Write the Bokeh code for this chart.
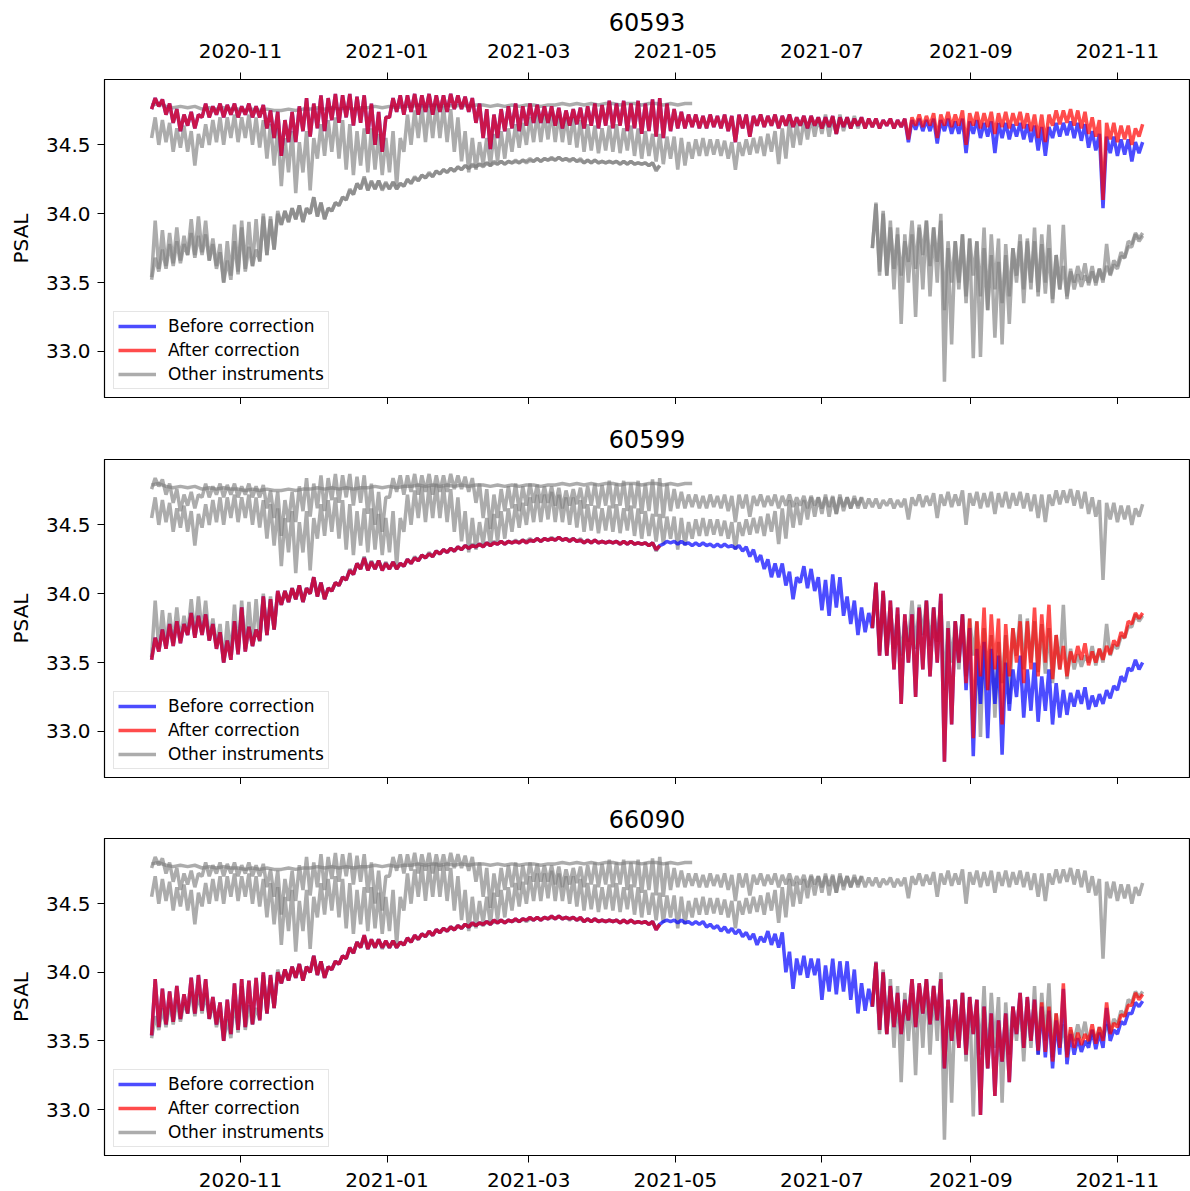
import numpy as np
from datetime import datetime, timedelta
from bokeh.plotting import figure
from bokeh.models import (Range1d, FixedTicker, DatetimeTickFormatter, PrintfTickFormatter,
                          DatetimeAxis, Legend, LegendItem)
from bokeh.layouts import column
from bokeh.embed import file_html
from bokeh.resources import INLINE

NAN = float("nan")
GAP = (NAN, NAN)

# ---------------- data (PSAL) -------------
# Each noisy record is given as (low, high) pairs, one pair per 3 days from 2020-09-25;
# the low sits at the start of the 3-day step and the high half-way through it.
start_date = datetime(2020, 9, 25)
pair_step_days = 1.5
flat_step_days = 3

titles = ["60593", "60599", "66090"]
tick_months = ["2020-11", "2021-01", "2021-03", "2021-05", "2021-07", "2021-09", "2021-11"]
y_ticks = [33.0, 33.5, 34.0, 34.5]
legend_labels = ["Before correction", "After correction", "Other instruments"]

# ---- 60593 ----
a_shared = [
    (34.76, 34.84), (34.78, 34.83), (34.72, 34.80), (34.66, 34.76), (34.60, 34.72), (34.64, 34.74), (34.62, 34.72), (34.70, 34.80), (34.70, 34.78), (34.72, 34.80),
    (34.70, 34.79), (34.72, 34.80), (34.70, 34.78), (34.72, 34.80), (34.70, 34.78), (34.70, 34.79), (34.62, 34.75), (34.55, 34.74), (34.42, 34.68), (34.52, 34.74),
    (34.52, 34.78), (34.60, 34.84), (34.56, 34.80), (34.62, 34.86), (34.60, 34.84), (34.68, 34.87), (34.66, 34.86), (34.70, 34.87), (34.64, 34.85), (34.66, 34.86),
    (34.58, 34.80), (34.50, 34.74), (34.45, 34.70), (34.70, 34.84), (34.74, 34.86), (34.72, 34.86), (34.74, 34.87), (34.72, 34.86), (34.74, 34.87), (34.72, 34.86),
    (34.74, 34.86), (34.74, 34.87), (34.76, 34.86), (34.76, 34.85), (34.74, 34.84), (34.66, 34.80), (34.55, 34.76), (34.47, 34.72), (34.55, 34.76), (34.60, 34.78),
    (34.62, 34.80), (34.60, 34.78), (34.64, 34.80), (34.66, 34.79), (34.66, 34.78), (34.66, 34.78), (34.64, 34.77), (34.62, 34.75), (34.64, 34.76), (34.65, 34.77),
    (34.62, 34.78), (34.64, 34.80), (34.62, 34.79), (34.64, 34.82), (34.62, 34.80), (34.64, 34.82), (34.60, 34.80), (34.62, 34.82), (34.58, 34.80), (34.60, 34.83),
    (34.56, 34.84), (34.55, 34.80), (34.60, 34.76), (34.62, 34.74), (34.62, 34.72), (34.63, 34.72), (34.62, 34.71), (34.62, 34.72), (34.63, 34.71), (34.62, 34.72),
    (34.60, 34.71), (34.52, 34.72), (34.62, 34.72), (34.56, 34.71), (34.64, 34.72), (34.63, 34.71), (34.64, 34.72), (34.62, 34.71), (34.64, 34.72), (34.63, 34.70),
    (34.64, 34.71), (34.62, 34.71), (34.64, 34.70), (34.62, 34.70), (34.63, 34.71), (34.58, 34.70), (34.63, 34.70), (34.62, 34.69), (34.64, 34.70), (34.62, 34.69),
    (34.63, 34.69), (34.62, 34.68), (34.64, 34.69), (34.62, 34.68), (34.63, 34.69)]
a_raw_late = [
    (34.52, 34.68), (34.61, 34.69), (34.60, 34.68), (34.60, 34.69), (34.51, 34.68), (34.60, 34.69), (34.58, 34.67), (34.58, 34.69), (34.44, 34.67), (34.58, 34.68),
    (34.55, 34.66), (34.56, 34.67), (34.44, 34.66), (34.55, 34.66), (34.54, 34.65), (34.56, 34.66), (34.54, 34.65), (34.52, 34.64), (34.46, 34.63), (34.42, 34.63),
    (34.55, 34.66), (34.56, 34.66), (34.57, 34.67), (34.55, 34.66), (34.53, 34.65), (34.48, 34.60), (34.46, 34.58), (34.04, 34.56), (34.44, 34.56), (34.42, 34.54),
    (34.43, 34.54), (34.38, 34.52), (34.44, 34.52)]
a_cor_late = [
    (34.54, 34.70), (34.64, 34.72), (34.63, 34.71), (34.64, 34.73), (34.55, 34.72), (34.64, 34.74), (34.63, 34.72), (34.64, 34.75), (34.50, 34.73), (34.64, 34.74),
    (34.62, 34.73), (34.63, 34.74), (34.58, 34.73), (34.63, 34.74), (34.62, 34.73), (34.64, 34.74), (34.62, 34.73), (34.60, 34.72), (34.55, 34.72), (34.52, 34.72),
    (34.64, 34.75), (34.65, 34.75), (34.66, 34.76), (34.64, 34.75), (34.62, 34.74), (34.58, 34.70), (34.56, 34.68), (34.10, 34.66), (34.54, 34.66), (34.52, 34.64),
    (34.54, 34.64), (34.50, 34.62), (34.56, 34.65)]

# ---- 60599 ----
b_early = [
    (33.52, 33.68), (33.58, 33.74), (33.60, 33.78), (33.62, 33.80), (33.64, 33.78), (33.70, 33.86), (33.68, 33.84), (33.70, 33.85), (33.66, 33.78), (33.60, 33.72),
    (33.50, 33.66), (33.52, 33.80), (33.56, 33.90), (33.58, 33.76), (33.62, 33.74), (33.66, 33.98), (33.70, 33.96), (33.74, 34.02), (33.92, 34.02), (33.94, 34.04),
    (33.96, 34.06), (33.94, 34.04), (34.00, 34.12), (33.98, 34.08), (33.96, 34.04), (34.02, 34.08), (34.06, 34.12), (34.10, 34.17), (34.14, 34.22), (34.18, 34.26),
    (34.17, 34.23), (34.18, 34.24), (34.17, 34.22), (34.18, 34.23), (34.18, 34.22), (34.20, 34.25), (34.22, 34.26), (34.24, 34.28), (34.26, 34.29), (34.27, 34.31),
    (34.29, 34.32), (34.30, 34.33), (34.31, 34.34), (34.32, 34.35), (34.33, 34.35), (34.34, 34.36), (34.34, 34.37), (34.35, 34.37), (34.36, 34.38), (34.36, 34.38),
    (34.37, 34.38), (34.37, 34.39), (34.37, 34.39), (34.38, 34.40), (34.38, 34.40), (34.39, 34.40), (34.39, 34.41), (34.39, 34.40), (34.38, 34.40), (34.38, 34.39),
    (34.37, 34.39), (34.37, 34.39), (34.37, 34.38), (34.37, 34.38), (34.37, 34.38), (34.36, 34.38), (34.36, 34.38), (34.36, 34.37), (34.36, 34.37), (34.35, 34.37),
    (34.32, 34.35)]
b_raw_mid = [
    (34.36, 34.38), (34.37, 34.38), (34.36, 34.38), (34.36, 34.37), (34.35, 34.37), (34.35, 34.37), (34.35, 34.36), (34.34, 34.36), (34.34, 34.36), (34.34, 34.35),
    (34.33, 34.35), (34.31, 34.34), (34.27, 34.32), (34.23, 34.28), (34.18, 34.25), (34.12, 34.22), (34.12, 34.22), (34.06, 34.16), (33.96, 34.12), (34.08, 34.20),
    (34.04, 34.18), (34.02, 34.12), (33.88, 34.10), (33.84, 34.14), (33.90, 34.12), (33.84, 33.98), (33.78, 33.95), (33.70, 33.90), (33.72, 33.86)]
b_late_shared = [
    (33.75, 34.08), (33.55, 34.02), (33.55, 33.95), (33.45, 33.90), (33.20, 33.85), (33.50, 33.85), (33.25, 33.90), (33.45, 33.95), (33.40, 33.90), (33.50, 34.00),
    (32.78, 33.75), (33.05, 33.80), (33.50, 33.85)]
b_raw_late = [
    (33.30, 33.75), (32.82, 33.60), (33.20, 33.65), (32.95, 33.60), (33.20, 33.55), (32.83, 33.50), (33.15, 33.45), (33.25, 33.55), (33.10, 33.45), (33.15, 33.50),
    (33.07, 33.40), (33.15, 33.45), (33.05, 33.35), (33.10, 33.30), (33.12, 33.28), (33.18, 33.30), (33.20, 33.32), (33.16, 33.26), (33.18, 33.27), (33.20, 33.30),
    (33.24, 33.33), (33.30, 33.40), (33.36, 33.46), (33.44, 33.52), (33.45, 33.50)]
b_cor_late = [
    (33.35, 33.82), (32.95, 33.80), (33.40, 33.90), (33.30, 33.85), (33.45, 33.82), (33.05, 33.78), (33.40, 33.75), (33.50, 33.80), (33.35, 33.80), (33.45, 33.90),
    (33.40, 33.85), (33.50, 33.92), (33.38, 33.70), (33.45, 33.62), (33.40, 33.58), (33.50, 33.62), (33.52, 33.64), (33.48, 33.58), (33.50, 33.60), (33.52, 33.62),
    (33.56, 33.66), (33.62, 33.72), (33.68, 33.80), (33.78, 33.86), (33.82, 33.86)]

# ---- 66090 ----
c_early = [
    (33.54, 33.95), (33.60, 33.88), (33.62, 33.86), (33.64, 33.90), (33.66, 33.84), (33.70, 33.96), (33.70, 33.98), (33.72, 33.95), (33.66, 33.82), (33.62, 33.78),
    (33.50, 33.80), (33.55, 33.92), (33.58, 33.95), (33.60, 33.94), (33.62, 33.96), (33.65, 34.00), (33.70, 33.98), (33.74, 34.00), (33.92, 34.02), (33.94, 34.04),
    (33.96, 34.06), (33.94, 34.04), (34.00, 34.12), (33.98, 34.08), (33.96, 34.04), (34.02, 34.08), (34.06, 34.12), (34.10, 34.18), (34.14, 34.22), (34.18, 34.27),
    (34.17, 34.24), (34.18, 34.24), (34.18, 34.23), (34.18, 34.23), (34.18, 34.22), (34.20, 34.25), (34.22, 34.27), (34.24, 34.28), (34.26, 34.30), (34.27, 34.31),
    (34.29, 34.32), (34.30, 34.33), (34.31, 34.34), (34.32, 34.35), (34.33, 34.36), (34.34, 34.36), (34.35, 34.37), (34.35, 34.38), (34.36, 34.38), (34.36, 34.38),
    (34.37, 34.39), (34.37, 34.39), (34.38, 34.40), (34.38, 34.40), (34.38, 34.40), (34.39, 34.41), (34.39, 34.41), (34.39, 34.40), (34.39, 34.40), (34.38, 34.40),
    (34.37, 34.39), (34.37, 34.39), (34.37, 34.38), (34.37, 34.38), (34.37, 34.38), (34.36, 34.38), (34.36, 34.38), (34.36, 34.37), (34.36, 34.37), (34.35, 34.37),
    (34.31, 34.35)]
c_raw_mid = [
    (34.37, 34.38), (34.37, 34.38), (34.36, 34.38), (34.36, 34.37), (34.35, 34.37), (34.35, 34.37), (34.33, 34.35), (34.32, 34.34), (34.30, 34.33), (34.29, 34.32),
    (34.28, 34.31), (34.26, 34.29), (34.24, 34.28), (34.20, 34.26), (34.22, 34.30), (34.20, 34.28), (34.18, 34.29), (34.00, 34.15), (33.88, 34.10), (33.98, 34.12),
    (33.96, 34.10), (33.98, 34.10), (33.80, 34.05), (33.86, 34.10), (33.84, 34.08), (33.86, 34.08), (33.80, 34.02), (33.70, 33.92), (33.72, 33.88)]
c_late_shared = [
    (33.75, 34.07), (33.58, 34.00), (33.55, 33.90), (33.60, 33.85), (33.55, 33.80), (33.65, 33.95), (33.60, 33.92), (33.70, 33.95), (33.62, 33.90), (33.65, 33.95),
    (33.30, 33.80), (33.50, 33.80), (33.45, 33.85), (33.40, 33.82), (33.55, 33.80), (32.96, 33.75), (33.30, 33.70), (33.10, 33.65), (33.35, 33.70), (33.20, 33.75),
    (33.55, 33.85), (33.45, 33.82), (33.50, 33.80)]
c_raw_late = [
    (33.40, 33.75), (33.38, 33.72), (33.30, 33.65), (33.40, 33.88), (33.33, 33.55), (33.40, 33.52), (33.42, 33.50), (33.45, 33.58), (33.44, 33.56), (33.45, 33.74),
    (33.50, 33.58), (33.55, 33.64), (33.62, 33.70), (33.70, 33.78), (33.75, 33.79)]
c_cor_late = [
    (33.43, 33.78), (33.42, 33.75), (33.35, 33.70), (33.45, 33.92), (33.38, 33.60), (33.45, 33.56), (33.47, 33.55), (33.50, 33.62), (33.48, 33.60), (33.50, 33.78),
    (33.55, 33.63), (33.60, 33.69), (33.68, 33.76), (33.76, 33.85), (33.80, 33.84)]

# ---- two further instruments, only shown in grey ----
d_other = [
    (34.55, 34.70), (34.50, 34.68), (34.52, 34.66), (34.45, 34.62), (34.48, 34.64), (34.45, 34.60), (34.35, 34.58), (34.48, 34.65), (34.50, 34.68), (34.52, 34.70),
    (34.50, 34.70), (34.55, 34.72), (34.52, 34.70), (34.55, 34.72), (34.50, 34.70), (34.48, 34.68), (34.40, 34.65), (34.35, 34.62), (34.20, 34.55), (34.30, 34.60),
    (34.15, 34.52), (34.30, 34.60), (34.17, 34.55), (34.40, 34.65), (34.42, 34.68), (34.45, 34.70), (34.40, 34.68), (34.32, 34.65), (34.28, 34.60), (34.35, 34.62),
    (34.30, 34.62), (34.32, 34.58), (34.28, 34.55), (34.30, 34.60), (34.20, 34.55), (34.45, 34.72), (34.50, 34.75), (34.55, 34.78), (34.52, 34.78), (34.55, 34.80),
    (34.55, 34.78), (34.52, 34.76), (34.45, 34.70), (34.38, 34.60), (34.30, 34.55), (34.32, 34.52), (34.36, 34.55), (34.35, 34.58), (34.38, 34.60), (34.40, 34.62),
    (34.45, 34.65), (34.48, 34.66), (34.50, 34.70), (34.52, 34.72), (34.52, 34.72), (34.54, 34.74), (34.52, 34.72), (34.52, 34.70), (34.50, 34.70), (34.48, 34.68),
    (34.45, 34.65), (34.46, 34.64), (34.44, 34.62), (34.46, 34.64), (34.45, 34.65), (34.44, 34.62), (34.46, 34.64), (34.42, 34.62), (34.40, 34.60), (34.42, 34.58),
    (34.38, 34.58), (34.36, 34.56), (34.40, 34.56), (34.32, 34.55), (34.35, 34.52), (34.40, 34.54), (34.42, 34.55), (34.42, 34.54), (34.43, 34.54), (34.42, 34.53),
    (34.40, 34.52), (34.32, 34.52), (34.42, 34.54), (34.43, 34.55), (34.44, 34.56), (34.42, 34.58), (34.45, 34.60), (34.36, 34.62), (34.40, 34.68), (34.48, 34.66),
    (34.50, 34.68), (34.54, 34.70), (34.56, 34.70), (34.58, 34.72), (34.56, 34.70), (34.58, 34.72), (34.60, 34.70), (34.62, 34.71), (34.62, 34.70)]
e_other = [34.79, 34.80, 34.78, 34.77, 34.78, 34.77, 34.78, 34.76, 34.77, 34.76,
           34.77, 34.76, 34.76, 34.75, 34.76, 34.75, 34.76, 34.75, 34.75, 34.76,
           34.75, 34.76, 34.76, 34.77, 34.76, 34.77, 34.76, 34.77, 34.76, 34.77,
           34.77, 34.78, 34.77, 34.78, 34.77, 34.78, 34.78, 34.79, 34.78, 34.79,
           34.78, 34.79, 34.78, 34.79, 34.78, 34.79, 34.79, 34.78, 34.79, 34.78,
           34.79, 34.78, 34.79, 34.79, 34.78, 34.79, 34.79, 34.80, 34.79, 34.80,
           34.79, 34.80, 34.79, 34.80, 34.80, 34.79, 34.80, 34.80, 34.79, 34.80,
           34.80, 34.79, 34.80, 34.79, 34.80, 34.80]

# ---------------- assemble the records -------------
A_raw = a_shared + a_raw_late
A_cor = a_shared + a_cor_late
B_raw = b_early + b_raw_mid + b_late_shared + b_raw_late
B_cor = b_early + [GAP] * len(b_raw_mid) + b_late_shared + b_cor_late
C_raw = c_early + c_raw_mid + c_late_shared + c_raw_late
C_cor = c_early + [GAP] * len(c_raw_mid) + c_late_shared + c_cor_late

BASE = np.datetime64(start_date, "ms")
DAY_MS = 86400000


def pairs_xy(pairs):
    y = np.array([v for pr in pairs for v in pr], dtype=float)
    x = BASE + (np.arange(len(y)) * pair_step_days * DAY_MS).astype("timedelta64[ms]")
    return x, y


def flat_xy(values):
    y = np.array(values, dtype=float)
    x = BASE + (np.arange(len(y)) * flat_step_days * DAY_MS).astype("timedelta64[ms]")
    return x, y


XY = {
    "A_raw": pairs_xy(A_raw), "A_cor": pairs_xy(A_cor),
    "B_raw": pairs_xy(B_raw), "B_cor": pairs_xy(B_cor),
    "C_raw": pairs_xy(C_raw), "C_cor": pairs_xy(C_cor),
    "D": pairs_xy(d_other), "E": flat_xy(e_other),
}

panels = [
    (titles[0], "A_raw", "A_cor", ["D", "E", "B_cor", "C_cor"]),
    (titles[1], "B_raw", "B_cor", ["A_cor", "D", "E", "C_cor"]),
    (titles[2], "C_raw", "C_cor", ["A_cor", "D", "E", "B_cor"]),
]

# ---------------- styling -------------
FONT = "DejaVu Sans"
LW = 3.5
x_range = Range1d(start=start_date - timedelta(days=19.6), end=start_date + timedelta(days=432.0))
y_range = Range1d(start=32.665, end=34.975)
tick_ms = [float((np.datetime64(t + "-01", "ms") - np.datetime64("1970-01-01", "ms")) / np.timedelta64(1, "ms"))
           for t in tick_months]
fmt = "%Y-%m"
dt_fmt = DatetimeTickFormatter(days=fmt, months=fmt, years=fmt, hours=fmt, hourmin=fmt,
                               minutes=fmt, minsec=fmt, seconds=fmt, milliseconds=fmt, microseconds=fmt)


def style_xaxis(ax, labels, standoff=7):
    ax.formatter = dt_fmt
    ax.axis_line_color = "black"
    ax.major_label_text_font = FONT
    ax.major_label_text_color = "black"
    ax.major_label_text_font_size = "20px"
    ax.major_label_standoff = standoff
    if labels:
        ax.ticker = FixedTicker(ticks=tick_ms)
        ax.major_tick_in = 0
        ax.major_tick_out = 7
        ax.major_tick_line_color = "black"
        ax.minor_tick_line_color = None
    else:
        # ticks without labels: draw them as minor ticks
        ax.ticker = FixedTicker(ticks=[], minor_ticks=tick_ms)
        ax.minor_tick_in = 0
        ax.minor_tick_out = 7
        ax.minor_tick_line_color = "black"
        ax.major_tick_line_color = None


layout_spec = [
    # (x axis location, bottom labels?, min_border_top, min_border_bottom, frame_height, title standoff)
    ("above", False, 79, 7, 318, 19),
    ("below", False, 55, 7, 318, 23),
    ("below", True, 54, 36, 317, 22),
]

figs = []
for (title, raw_key, cor_key, other_keys), (xloc, bottom_labels, mtop, mbot, fh, tstand) in zip(panels, layout_spec):
    p = figure(x_axis_type="datetime", x_range=x_range, y_range=y_range,
               frame_width=1085, frame_height=fh, x_axis_location=xloc,
               min_border_left=104, min_border_right=1, min_border_top=mtop, min_border_bottom=mbot,
               output_backend="svg", toolbar_location=None, title=title)
    p.background_fill_color = "white"
    p.border_fill_color = "white"
    p.outline_line_color = "black"
    p.outline_line_width = 1.2
    p.grid.visible = False

    p.title.align = "center"
    p.title.text_font = FONT
    p.title.text_font_size = "24px"
    p.title.text_font_style = "normal"
    p.title.text_color = "black"
    p.title.standoff = tstand

    if xloc == "above":
        style_xaxis(p.xaxis[0], True, standoff=15)
        bottom = DatetimeAxis()
        style_xaxis(bottom, False)
        p.add_layout(bottom, "below")
    else:
        style_xaxis(p.xaxis[0], bottom_labels, standoff=10)

    ya = p.yaxis[0]
    ya.ticker = FixedTicker(ticks=y_ticks)
    ya.formatter = PrintfTickFormatter(format="%.1f")
    ya.major_tick_in = 0
    ya.major_tick_out = 7
    ya.minor_tick_out = 0
    ya.minor_tick_in = 0
    ya.major_label_standoff = 7
    ya.major_label_text_font = FONT
    ya.major_label_text_font_size = "20px"
    ya.major_label_text_color = "black"
    ya.axis_line_color = "black"
    ya.major_tick_line_color = "black"
    ya.axis_label = "PSAL"
    ya.axis_label_text_font = FONT
    ya.axis_label_text_font_size = "20px"
    ya.axis_label_text_font_style = "normal"
    ya.axis_label_text_color = "black"
    ya.axis_label_standoff = 10

    grey_renderers = []
    for k in other_keys:
        x, y = XY[k]
        grey_renderers.append(p.line(x, y, line_color="grey", line_alpha=0.65, line_width=LW))
    x, y = XY[raw_key]
    r_blue = p.line(x, y, line_color="blue", line_alpha=0.7, line_width=LW)
    x, y = XY[cor_key]
    r_red = p.line(x, y, line_color="red", line_alpha=0.7, line_width=LW)

    legend = Legend(items=[LegendItem(label=legend_labels[0], renderers=[r_blue]),
                           LegendItem(label=legend_labels[1], renderers=[r_red]),
                           LegendItem(label=legend_labels[2], renderers=[grey_renderers[0]])],
                    location=(9, 8))
    legend.label_text_font = FONT
    legend.label_text_font_size = "17px"
    legend.label_text_color = "black"
    legend.label_height = 20
    legend.glyph_height = 20
    legend.glyph_width = 38
    legend.label_standoff = 12
    legend.padding = 4
    legend.spacing = 4
    legend.margin = 0
    legend.border_line_color = "#cccccc"
    legend.border_line_width = 1
    legend.background_fill_color = "white"
    legend.background_fill_alpha = 0.8
    p.add_layout(legend)
    figs.append(p)

layout = column(*figs, spacing=0)
open("out.html", "w").write(file_html(layout, INLINE))
